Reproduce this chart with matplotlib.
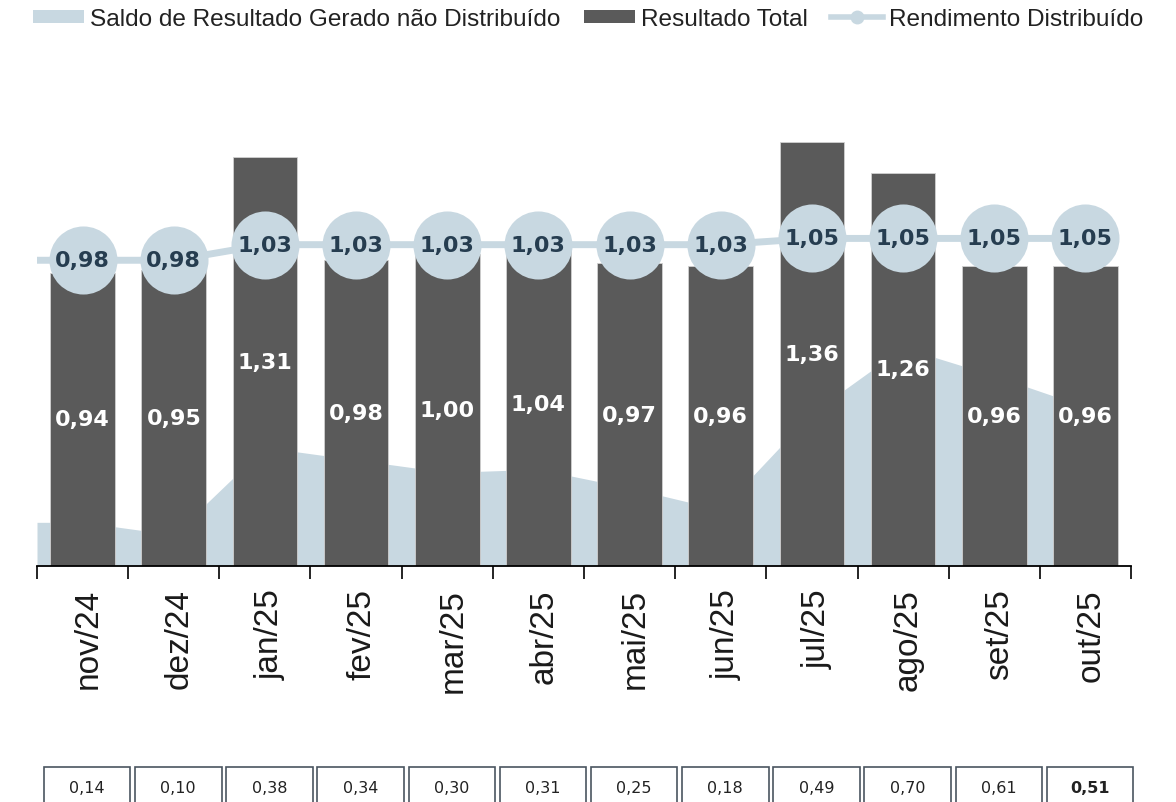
import matplotlib.pyplot as plt
import numpy as np
from matplotlib.patches import Patch, Rectangle
from matplotlib.lines import Line2D
from matplotlib.transforms import blended_transform_factory, ScaledTranslation

meses = ['nov/24', 'dez/24', 'jan/25', 'fev/25', 'mar/25', 'abr/25',
         'mai/25', 'jun/25', 'jul/25', 'ago/25', 'set/25', 'out/25']
resultado_total = [0.94, 0.95, 1.31, 0.98, 1.00, 1.04, 0.97, 0.96, 1.36, 1.26, 0.96, 0.96]
rendimento = [0.98, 0.98, 1.03, 1.03, 1.03, 1.03, 1.03, 1.03, 1.05, 1.05, 1.05, 1.05]
saldo = [0.14, 0.10, 0.38, 0.34, 0.30, 0.31, 0.25, 0.18, 0.49, 0.70, 0.61, 0.51]

cor_barra = '#5a5a5a'
cor_azul = '#c8d8e1'
cor_texto_circ = '#263d50'


def fmt(v):
    return f"{v:.2f}".replace('.', ',')


fig = plt.figure(figsize=(11.76, 8.03), dpi=100)
ax = fig.add_axes([37 / 1176, 1 - 567 / 803, 1094 / 1176, 487 / 803])

x = np.arange(len(meses))

# area do saldo (começa na borda esquerda do eixo)
xa = np.r_[-0.5, x]
ya = np.r_[saldo[0], saldo]
ax.fill_between(xa, 0, ya, color=cor_azul, linewidth=0, zorder=1)

# barras
ax.bar(x, resultado_total, width=0.71, color=cor_barra, edgecolor='#d0d0d0',
       linewidth=0.6, zorder=2)
for xi, v in zip(x, resultado_total):
    ax.text(xi, v / 2, fmt(v), ha='center', va='center', color='white',
            fontsize=16, fontweight='bold', zorder=6)

# linha do rendimento
xl = np.r_[-0.5, x]
yl = np.r_[rendimento[0], rendimento]
ax.plot(xl, yl, color=cor_azul, linewidth=5, zorder=3, solid_capstyle='butt')
ax.plot(x, rendimento, linestyle='none', marker='o', markersize=49,
        markerfacecolor=cor_azul, markeredgewidth=0, zorder=4)
for xi, v in zip(x, rendimento):
    ax.text(xi, v, fmt(v), ha='center', va='center', color=cor_texto_circ,
            fontsize=16, fontweight='bold', zorder=6)

ax.set_xlim(-0.5, len(meses) - 0.5)
ax.set_ylim(0, 1.561)
for s in ['top', 'right', 'left']:
    ax.spines[s].set_visible(False)
ax.spines['bottom'].set_linewidth(1.3)
ax.spines['bottom'].set_zorder(7)
ax.set_yticks([])

ax.set_xticks(x)
ax.set_xticklabels(meses, rotation=90, fontsize=24, family='Liberation Sans',
                   color='#1a1a1a', va='top')
ax.tick_params(axis='x', which='major', length=0, pad=16)
ax.set_xticks(np.arange(-0.5, len(meses), 1), minor=True)
ax.tick_params(axis='x', which='minor', length=9, width=1.2, color='black')
desloc = ScaledTranslation(0.055, 0, fig.dpi_scale_trans)
for lbl in ax.get_xticklabels():
    lbl.set_transform(lbl.get_transform() + desloc)

# caixas do saldo embaixo
trans = blended_transform_factory(ax.transData, fig.transFigure)
for i, v in enumerate(saldo):
    r = Rectangle((i - 0.425, -0.05), 0.95, 1 - 768 / 803 + 0.05, transform=trans,
                  facecolor='white', edgecolor='#4a5560', linewidth=1.2, clip_on=False)
    fig.add_artist(r)
    peso = 'bold' if i == len(saldo) - 1 else 'normal'
    fig.text(i + 0.05, 1 - 789 / 803, fmt(v), transform=trans, ha='center',
             va='center', fontsize=11.5, fontweight=peso, color='#222222')

# legenda
handles = [
    Patch(facecolor=cor_azul, edgecolor='none'),
    Patch(facecolor=cor_barra, edgecolor='none'),
    Line2D([0], [0], color=cor_azul, linewidth=4, marker='o', markersize=10,
           markerfacecolor=cor_azul, markeredgewidth=0),
]
labels = ['Saldo de Resultado Gerado não Distribuído', 'Resultado Total',
          'Rendimento Distribuído']
fig.legend(handles, labels, loc='upper center', bbox_to_anchor=(0.5, 1.016),
           ncol=3, frameon=False, handlelength=2.1, handleheight=0.5,
           handletextpad=0.25, columnspacing=0.95, labelcolor='#222222',
           prop={'family': 'Liberation Sans', 'size': 17.6})

fig.savefig('out.png', dpi=100)
